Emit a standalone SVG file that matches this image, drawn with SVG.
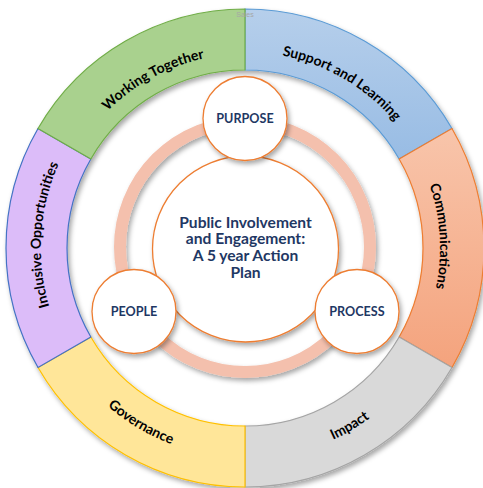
<svg xmlns="http://www.w3.org/2000/svg" width="483" height="488" viewBox="0 0 483 488">
<defs>
<style>
.seg{stroke-width:1.2}
.lbl{font-family:Lato,"Open Sans","Liberation Sans",sans-serif;font-weight:bold;font-size:14px;fill:#000}
.node{fill:#fff;stroke:#ed7d31;stroke-width:1.3}
.ntx{font-family:Lato,"Open Sans","Liberation Sans",sans-serif;font-weight:bold;font-size:12.6px;fill:#1f3864;text-anchor:middle}
.ctx{font-family:Lato,"Open Sans","Liberation Sans",sans-serif;font-weight:bold;font-size:15.6px;fill:#1f3864;text-anchor:middle}
</style>
<filter id="sh" x="-20%" y="-20%" width="140%" height="140%">
<feDropShadow dx="2" dy="3" stdDeviation="2.5" flood-color="#000" flood-opacity="0.35"/>
</filter>
<linearGradient id="gBlue" x1="0" y1="0" x2="0" y2="1">
<stop offset="0" stop-color="#b6cfeb"/><stop offset="1" stop-color="#98bce4"/>
</linearGradient>
<linearGradient id="gOrange" x1="0" y1="0" x2="0" y2="1">
<stop offset="0" stop-color="#f8c5ab"/><stop offset="1" stop-color="#f4a37d"/>
</linearGradient>
<path id="pWork" d="M53.18,277.01 A194,194 0 0 1 373.29,102.48"/>
<path id="pSupp" d="M120.07,96.98 A196,196 0 0 1 437.78,283.38"/>
<path id="pComm" d="M300.55,61.08 A195,195 0 0 1 322.60,426.89"/>
<path id="pImp" d="M110.50,410.58 A211,211 0 0 0 452.53,209.91"/>
<path id="pGov" d="M39.21,208.74 A209.5,209.5 0 0 0 377.41,410.35"/>
<path id="pIncl" d="M161.87,436.48 A207,207 0 0 1 187.53,50.18"/>
</defs>
<rect width="483" height="488" fill="#fff"/>
<g filter="url(#sh)">
<g id="support-learning">
<path class="seg" d="M245,9 A239,239 0 0 1 451.98,128.5 L399.15,159 A178,178 0 0 0 245,70 Z" fill="url(#gBlue)" stroke="#5b9bd5"/>
</g>
<g id="communications">
<path class="seg" d="M451.98,128.5 A239,239 0 0 1 451.98,367.5 L399.15,337 A178,178 0 0 0 399.15,159 Z" fill="url(#gOrange)" stroke="#ed7d31"/>
</g>
<g id="impact">
<path class="seg" d="M451.98,367.5 A239,239 0 0 1 245,487 L245,426 A178,178 0 0 0 399.15,337 Z" fill="#d9d9d9" stroke="#a5a5a5"/>
</g>
<g id="governance">
<path class="seg" d="M245,487 A239,239 0 0 1 38.02,367.5 L90.85,337 A178,178 0 0 0 245,426 Z" fill="#ffe699" stroke="#ffc000"/>
</g>
<g id="inclusive-opportunities">
<path class="seg" d="M38.02,367.5 A239,239 0 0 1 38.02,128.5 L90.85,159 A178,178 0 0 0 90.85,337 Z" fill="#dcbcf9" stroke="#4472c4"/>
</g>
<g id="working-together">
<path class="seg" d="M38.02,128.5 A239,239 0 0 1 245,9 L245,70 A178,178 0 0 0 90.85,159 Z" fill="#a9d18e" stroke="#70ad47"/>
</g>
</g>
<g id="segment-labels">
<text class="lbl"><textPath href="#pWork" startOffset="50%" text-anchor="middle">Working Together</textPath></text>
<text class="lbl"><textPath href="#pSupp" startOffset="50%" text-anchor="middle">Support and Learning</textPath></text>
<text class="lbl"><textPath href="#pComm" startOffset="50%" text-anchor="middle">Communications</textPath></text>
<text class="lbl"><textPath href="#pImp" startOffset="50%" text-anchor="middle">Impact</textPath></text>
<text class="lbl"><textPath href="#pGov" startOffset="50%" text-anchor="middle">Governance</textPath></text>
<text class="lbl"><textPath href="#pIncl" startOffset="50%" text-anchor="middle">Inclusive Opportunities</textPath></text>
</g>
<text x="245" y="16.5" font-family="Liberation Sans,Arial,sans-serif" font-size="7" fill="#a6a6a6" text-anchor="middle">Sales</text>
<g id="connectors">
<circle cx="245" cy="247" r="125" fill="none" stroke="#f4c0ad" stroke-width="12" filter="url(#sh)"/>
</g>
<g id="center">
<circle class="node" cx="245.5" cy="249" r="93" filter="url(#sh)"/>
<text class="ctx" x="245.5" y="227.5">Public Involvement</text>
<text class="ctx" x="245.5" y="244">and Engagement:</text>
<text class="ctx" x="245.5" y="261">A 5 year Action</text>
<text class="ctx" x="245.5" y="277.5">Plan</text>
</g>
<g id="purpose">
<circle class="node" cx="245" cy="118.5" r="42" filter="url(#sh)"/>
<text class="ntx" x="245" y="123">PURPOSE</text>
</g>
<g id="people">
<circle class="node" cx="134" cy="311.5" r="42" filter="url(#sh)"/>
<text class="ntx" x="134" y="316">PEOPLE</text>
</g>
<g id="process">
<circle class="node" cx="357" cy="311.5" r="42" filter="url(#sh)"/>
<text class="ntx" x="357" y="316">PROCESS</text>
</g>
</svg>
